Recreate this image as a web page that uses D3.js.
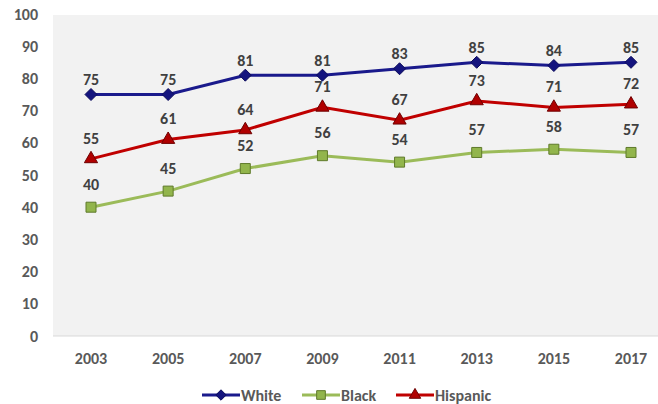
<!DOCTYPE html>
<html>
<head>
<meta charset="utf-8">
<script src="https://cdn.jsdelivr.net/npm/d3@7"></script>
<style>
  body { margin: 0; background: #fff; }
  text { font-family: Calibri, Carlito, "Open Sans", sans-serif; }
</style>
</head>
<body>
<div id="chart"></div>
<script>
const years = ["2003", "2005", "2007", "2009", "2011", "2013", "2015", "2017"];
const white = [75, 75, 81, 81, 83, 85, 84, 85];
const black = [40, 45, 52, 56, 54, 57, 58, 57];
const hispanic = [55, 61, 64, 71, 67, 73, 71, 72];
const yTicks = [0, 10, 20, 30, 40, 50, 60, 70, 80, 90, 100];

const width = 658, height = 404;
const svg = d3.select("#chart").append("svg")
    .attr("width", width)
    .attr("height", height);

const x = d3.scalePoint().domain(years).range([91, 631]);
const y = d3.scaleLinear().domain([0, 100]).range([336, 14]);

// Excel style diamond (rotated square, not the tall d3 one)
const diamond = {
    draw(ctx, size) {
        const r = Math.sqrt(size / 2);
        ctx.moveTo(0, -r);
        ctx.lineTo(r, 0);
        ctx.lineTo(0, r);
        ctx.lineTo(-r, 0);
        ctx.closePath();
    }
};

// plot background
svg.append("rect")
    .attr("x", 53).attr("y", 15)
    .attr("width", width - 53).attr("height", 321)
    .attr("fill", "#f2f2f2");

svg.append("line")
    .attr("x1", 53).attr("x2", width)
    .attr("y1", y(0)).attr("y2", y(0))
    .attr("stroke", "#d9d9d9").attr("stroke-width", 1);

// y tick labels
svg.selectAll("text.ytick")
    .data(yTicks)
    .enter().append("text")
    .attr("class", "ytick")
    .attr("x", 38)
    .attr("y", d => y(d))
    .attr("dy", "0.35em")
    .attr("text-anchor", "end")
    .style("fill", "#595959")
    .style("font-size", "16px")
    .style("font-weight", "bold")
    .text(d => d);

// x tick labels
svg.selectAll("text.xtick")
    .data(years)
    .enter().append("text")
    .attr("class", "xtick")
    .attr("x", d => x(d))
    .attr("y", 358)
    .attr("dy", "0.35em")
    .attr("text-anchor", "middle")
    .style("fill", "#595959")
    .style("font-size", "16px")
    .style("font-weight", "bold")
    .text(d => d);

const series = [
    { name: "White", values: white, color: "#1a1a8c", fill: "#14147e", edge: "#0c0c5c", marker: diamond, size: 72, off: 15 },
    { name: "Black", values: black, color: "#9bbb59", fill: "#92b54c", edge: "#5f7a2a", marker: d3.symbolSquare, size: 100, off: 23 },
    { name: "Hispanic", values: hispanic, color: "#c00000", fill: "#b00000", edge: "#6e0000", marker: d3.symbolTriangle, size: 75, off: 21 }
];

const line = d3.line()
    .x(d => x(d[0]))
    .y(d => y(d[1]));

series.forEach(s => {
    const pts = years.map((yr, i) => [yr, s.values[i]]);
    svg.append("path")
        .datum(pts)
        .attr("fill", "none")
        .attr("stroke", s.color)
        .attr("stroke-width", 3)
        .attr("d", line);

    svg.selectAll(null)
        .data(pts)
        .enter().append("path")
        .attr("transform", d => `translate(${x(d[0])},${y(d[1])})`)
        .attr("d", d3.symbol().type(s.marker).size(s.size))
        .attr("fill", s.fill)
        .attr("stroke", s.edge)
        .attr("stroke-width", 1);

    svg.selectAll(null)
        .data(pts)
        .enter().append("text")
        .attr("x", d => x(d[0]))
        .attr("y", d => y(d[1]) - s.off)
        .attr("dy", "0.35em")
        .attr("text-anchor", "middle")
        .style("fill", "#404040")
        .style("font-size", "16px")
        .style("font-weight", "bold")
        .text(d => d[1]);
});

// legend
const legendX = [202, 302, 396];
series.forEach((s, i) => {
    const g = svg.append("g").attr("transform", `translate(${legendX[i]},395)`);
    g.append("line")
        .attr("x1", 0).attr("x2", 38)
        .attr("stroke", s.color).attr("stroke-width", 3);
    g.append("path")
        .attr("transform", "translate(19,0)")
        .attr("d", d3.symbol().type(s.marker).size(s.size * 0.75))
        .attr("fill", s.fill)
        .attr("stroke", s.edge);
    g.append("text")
        .attr("x", 39)
        .attr("dy", "0.35em")
        .style("fill", "#595959")
        .style("font-size", "16px")
        .style("font-weight", "bold")
        .text(s.name);
});
</script>
</body>
</html>
